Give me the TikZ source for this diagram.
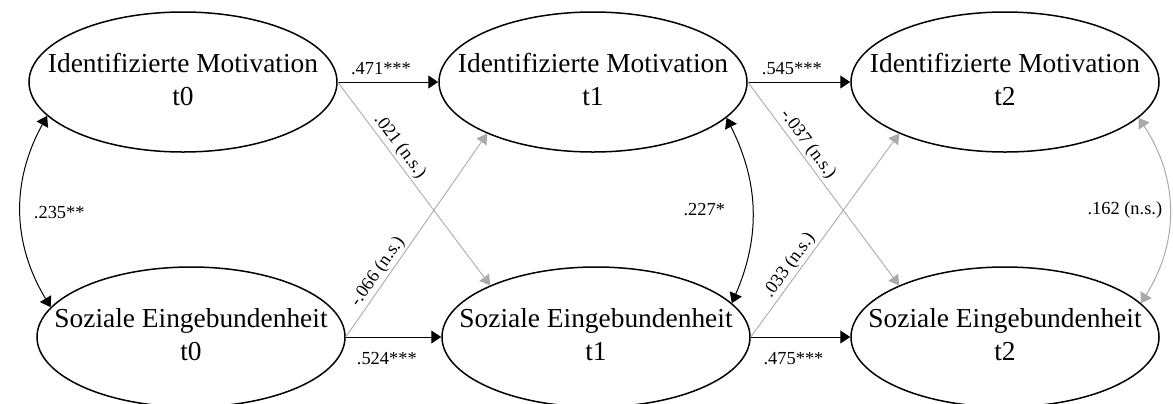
\documentclass[tikz,border=0pt]{standalone}
\usepackage{fontspec}
\setmainfont{Liberation Serif}
\usetikzlibrary{shapes.geometric,arrows.meta}
\definecolor{nsGray}{RGB}{170,170,170}
\newcommand{\twoLines}[2]{\makebox[0pt]{\begin{tabular}{@{}c@{}}#1\\#2\end{tabular}}}

\begin{document}
\begin{tikzpicture}
[x=0.5pt, y=-0.5pt,
  latentDecorate/.style={shape=ellipse, draw, line width=0.75pt, minimum width=154pt,
    minimum height=70pt, inner sep=0pt, font=\fontsize{13.7}{16.5}\selectfont},
  pathDecorate/.style={-{Triangle[length=5pt,width=6.5pt]}, line width=0.5pt},
  crossDecorate/.style={-{Triangle[length=5pt,width=6pt]}, line width=0.45pt, nsGray},
  covDecorate/.style={{Triangle[length=5pt,width=6.5pt]}-{Triangle[length=5pt,width=6.5pt]}, line width=0.5pt},
  labelDecorate/.style={font=\fontsize{9.2}{11}\selectfont, text=black},
  topLabel/.style={above},
  bottomLabel/.style={below=4pt}]
\useasboundingbox (0,0) rectangle (1173,403);
%% latent variables
\foreach \nodename/\x/\y/\construct/\wave in {
  imt0/183/82/Identifizierte Motivation/t0,
  imt1/593/82/Identifizierte Motivation/t1,
  imt2/1005/82/Identifizierte Motivation/t2,
  set0/191/337/Soziale Eingebundenheit/t0,
  set1/596/337/Soziale Eingebundenheit/t1,
  set2/1005/337/Soziale Eingebundenheit/t2}
{
  \node (\nodename) at (\x,\y) [latentDecorate] {\twoLines{\construct}{\wave}};
}
%% stability paths
\path
\foreach \startnode/\endnode/\val/\where in {
  imt0/imt1/.471***/topLabel, imt1/imt2/.545***/topLabel,
  set0/set1/.524***/bottomLabel, set1/set2/.475***/bottomLabel}
{
  (\startnode) edge[pathDecorate] node[pos=0.43, \where, labelDecorate] {\val} (\endnode)
};
%% cross-lagged paths
\path
\foreach \startnode/\endnode/\val/\p in {
  imt0.east/set1.154/.021 (n.s.)/0.35, set0.east/imt1.206/-.066 (n.s.)/0.29,
  imt1.east/set2.154/-.037 (n.s.)/0.34, set1.east/imt2.206/.033 (n.s.)/0.32}
{
  (\startnode) edge[crossDecorate] node[pos=\p, sloped, above, inner sep=1pt, labelDecorate] {\val} (\endnode)
};
%% covariances
\draw[covDecorate] (imt0.194) to[bend right=30] node[right=3pt, labelDecorate] (cov0) {.235**} (set0.168);
\draw[covDecorate] (imt1.345) to[bend left=25] node[left=10pt, labelDecorate] (cov1) {.227*} (set1.14);
\draw[covDecorate, nsGray] (imt2.345) to[bend left=33] node[left=0pt, labelDecorate] (cov2) {.162 (n.s.)} (set2.14);
\end{tikzpicture}
\end{document}
